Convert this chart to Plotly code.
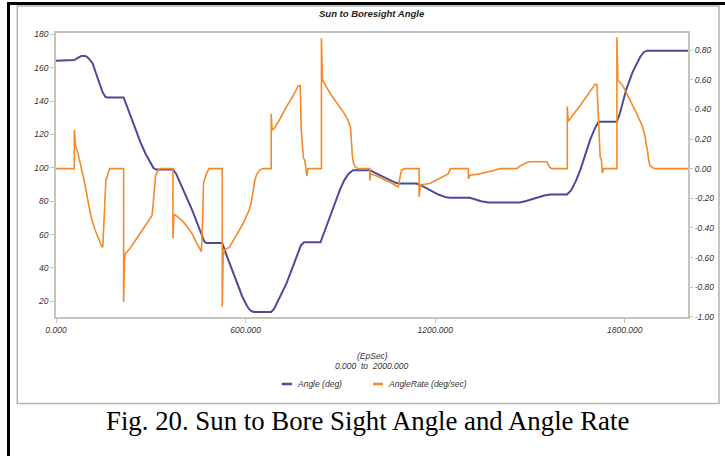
import plotly.graph_objects as go

# ---------------- data ----------------
angle_x = [0, 50, 58, 66, 74, 80, 92, 98, 106, 116, 126, 137, 147, 156, 162, 214, 222, 235, 252, 268,
           283, 298, 308, 316, 370, 380, 390, 399, 415, 431, 447, 463, 469, 475, 526, 542, 558, 574, 590,
           605, 615, 625, 681, 690, 705, 729, 750, 765, 775, 785, 837, 850, 866, 882, 898, 912, 926, 940,
           993, 1010, 1030, 1055, 1075, 1088, 1141, 1160, 1183, 1210, 1235, 1247, 1310, 1325, 1345, 1368,
           1468, 1490, 1520, 1545, 1564, 1617, 1630, 1645, 1659, 1675, 1690, 1705, 1717, 1775, 1785, 1804,
           1825, 1849, 1860, 1870, 2000]
angle_deg = [164.2, 164.2, 164.6, 165.6, 166.6, 167, 167, 166.5, 165, 162.6, 157, 150.6, 145.5, 142.6, 142.2,
             142.2, 138, 131, 122.6, 115, 108.6, 103, 100, 99, 99, 96.5, 92.5, 88.6, 81.5, 74.6, 66.5, 58.6,
             56, 55, 55, 46.5, 38.6, 30.5, 22.6, 17, 14.5, 13.6, 13.6, 15.5, 21.5, 30.6, 41, 48.5, 53.5, 55.4,
             55.4, 62, 70.6, 78.6, 86.6, 92.5, 96.5, 98.6, 98.6, 97, 95, 92.8, 91, 90.6, 90.6, 89, 86.6, 84,
             82.3, 82, 82, 81, 80, 79.2, 79.2, 80.3, 82, 83.4, 84, 84, 86.5, 92, 98.6, 107.5, 116.6, 123.5,
             127.6, 127.6, 133, 146.6, 157.5, 166.6, 169.3, 170.2, 170.2]

rate_x = [0, 58, 58, 62, 70, 82, 92, 103, 114, 125, 135, 145, 148, 152, 155, 158, 161, 163, 166, 170,
          214, 214, 217, 220, 230, 240, 256, 272, 288, 304, 307, 310, 315, 322, 330,
          370, 370, 373, 376, 388, 399, 415, 431, 445, 460, 463, 467, 470, 472, 475, 480, 484,
          526, 526, 529, 532, 549, 568, 592, 611, 618, 624, 629, 635, 645, 654,
          681, 681, 684, 690, 710, 730, 750, 766, 773, 776, 780, 783, 787, 790, 794, 797,
          840, 840, 843, 856, 870, 890, 910, 924, 932, 935, 938, 942, 948, 956,
          993, 993, 996, 1015, 1035, 1060, 1083, 1088, 1093, 1104,
          1149, 1149, 1153, 1183, 1210, 1241, 1248,
          1305, 1305, 1310, 1340, 1363, 1385, 1405,
          1458, 1470, 1479, 1490, 1500, 1553, 1562, 1569,
          1618, 1618, 1621, 1640, 1660, 1680, 1706, 1712, 1717, 1722, 1726, 1729, 1733,
          1775, 1775, 1778, 1796, 1815, 1838, 1855, 1865, 1868, 1872, 1876, 1880, 1890, 1896, 2000]
rate_degps = [0, 0, 0.26, 0.157, 0.10, -0.01, -0.11, -0.24, -0.35, -0.42, -0.48, -0.525, -0.53, -0.35, -0.16,
              -0.07, -0.065, -0.045, -0.02, 0,
              0, -0.90, -0.60, -0.57, -0.55, -0.52, -0.47, -0.42, -0.37, -0.315, -0.25, -0.15, -0.05, -0.015, 0,
              0, -0.47, -0.32, -0.31, -0.33, -0.35, -0.39, -0.44, -0.50, -0.56, -0.40, -0.10, -0.07, -0.065,
              -0.04, -0.01, 0,
              0, -0.93, -0.60, -0.55, -0.53, -0.46, -0.37, -0.28, -0.225, -0.15, -0.08, -0.04, -0.01, 0,
              0, 0.37, 0.26, 0.27, 0.34, 0.42, 0.49, 0.556, 0.56, 0.26, 0.12, 0.07, 0.06, 0.0, -0.05, 0,
              0, 0.88, 0.60, 0.55, 0.50, 0.44, 0.38, 0.327, 0.28, 0.18, 0.08, 0.035, 0.01, 0,
              0, -0.08, -0.035, -0.05, -0.068, -0.095, -0.124, -0.05, -0.01, 0,
              0, -0.19, -0.11, -0.10, -0.07, -0.035, 0,
              0, -0.068, -0.045, -0.035, -0.025, -0.012, 0,
              0, 0.02, 0.03, 0.042, 0.047, 0.047, 0.01, 0,
              0, 0.42, 0.32, 0.37, 0.43, 0.49, 0.57, 0.565, 0.26, 0.08, 0.06, -0.03, 0,
              0, 0.886, 0.60, 0.55, 0.47, 0.37, 0.29, 0.21, 0.16, 0.12, 0.05, 0.02, 0.005, 0, 0]

x_ticks = [0, 600, 1200, 1800]
left_ticks = [20, 40, 60, 80, 100, 120, 140, 160, 180]
right_ticks = [-1.0, -0.8, -0.6, -0.4, -0.2, 0.0, 0.2, 0.4, 0.6, 0.8]

chart_title = "Sun to Boresight Angle"
x_unit = "(EpSec)"
x_span = "0.000\u00a0\u00a0to\u00a0\u00a02000.000"
series_names = ["Angle (deg)", "AngleRate (deg/sec)"]
caption = "Fig. 20. Sun to Bore Sight Angle and Angle Rate"

# ---------------- style ----------------
BLUE = "#4b4b9c"
ORANGE = "#f58a28"
AXC = "#c4c4bc"
TXT = "#333333"
SANS = "Liberation Sans, Arial, sans-serif"

W, H = 725, 456
L, R, T, B = 56, 37, 33, 139
PW, PH = W - L - R, H - T - B


def px(x):
    return (x - L) / PW


def py(y):
    return (H - B - y) / PH


fig = go.Figure()
fig.add_trace(go.Scatter(x=angle_x, y=angle_deg, mode="lines", name=series_names[0],
                         line=dict(color=BLUE, width=2), yaxis="y"))
fig.add_trace(go.Scatter(x=rate_x, y=rate_degps, mode="lines", name=series_names[1],
                         line=dict(color=ORANGE, width=1.6), yaxis="y2"))

tickfont = dict(family=SANS, size=8.5, color=TXT, style="italic")

fig.update_layout(
    width=W, height=H,
    margin=dict(l=L, r=R, t=T, b=B, pad=0),
    paper_bgcolor="white", plot_bgcolor="white",
    showlegend=False,
    xaxis=dict(range=[0, 2000], tickvals=x_ticks, ticktext=[f"{v:.3f}" for v in x_ticks],
               showgrid=False, zeroline=False, showline=True, mirror=True, linecolor=AXC, linewidth=1.5,
               ticks="outside", ticklen=4, tickcolor=AXC, tickfont=tickfont),
    yaxis=dict(range=[10.6, 180.8], tickvals=left_ticks, ticktext=[str(v) for v in left_ticks],
               showgrid=False, zeroline=False, showline=True, mirror=True, linecolor=AXC, linewidth=1.5,
               ticks="outside", ticklen=4, tickcolor=AXC, tickfont=tickfont),
    yaxis2=dict(range=[-1.0005, 0.915], overlaying="y", side="right", tickvals=right_ticks,
                ticktext=[f"{v:.2f}" for v in right_ticks], showgrid=False, zeroline=False,
                showline=False, ticks="outside", ticklen=4, tickcolor=AXC, tickfont=tickfont),
)

shapes = [
    # outer black frame (top and left)
    dict(type="line", xref="paper", yref="paper", x0=px(7), x1=px(730), y0=py(3.5), y1=py(3.5),
         line=dict(color="black", width=3)),
    dict(type="line", xref="paper", yref="paper", x0=px(8.5), x1=px(8.5), y0=py(2), y1=py(470),
         line=dict(color="black", width=3)),
    # gray chart box
    dict(type="rect", xref="paper", yref="paper", x0=px(17.3), x1=px(719), y0=py(6), y1=py(403.5),
         line=dict(color="#b4b4ac", width=1.5)),
    # legend samples
    dict(type="line", xref="paper", yref="paper", x0=px(281.7), x1=px(292), y0=py(384), y1=py(384),
         line=dict(color=BLUE, width=2.5)),
    dict(type="line", xref="paper", yref="paper", x0=px(373), x1=px(383), y0=py(384), y1=py(384),
         line=dict(color=ORANGE, width=2.5)),
]
fig.update_layout(shapes=shapes)

ann = [
    dict(text=chart_title, x=px(372), y=py(13), font=dict(family=SANS, size=9.5, color="#222", style="italic",
                                                          weight="bold"), xanchor="center"),
    dict(text=x_unit, x=px(372), y=py(355.5), font=dict(family=SANS, size=8.5, color=TXT, style="italic"),
         xanchor="center"),
    dict(text=x_span, x=px(371.5), y=py(365.7), font=dict(family=SANS, size=8.5, color=TXT, style="italic"),
         xanchor="center"),
    dict(text=series_names[0], x=px(295), y=py(384), font=dict(family=SANS, size=8.5, color=TXT, style="italic"),
         xanchor="left"),
    dict(text=series_names[1], x=px(386), y=py(384), font=dict(family=SANS, size=8.5, color=TXT, style="italic"),
         xanchor="left"),
    dict(text=caption, x=px(367), y=py(421), font=dict(family="Liberation Serif, Times New Roman, serif",
                                                       size=26.8, color="black"), xanchor="center"),
]
for a in ann:
    a.update(xref="paper", yref="paper", yanchor="middle", showarrow=False)
fig.update_layout(annotations=ann)

fig.write_html("out.html")
